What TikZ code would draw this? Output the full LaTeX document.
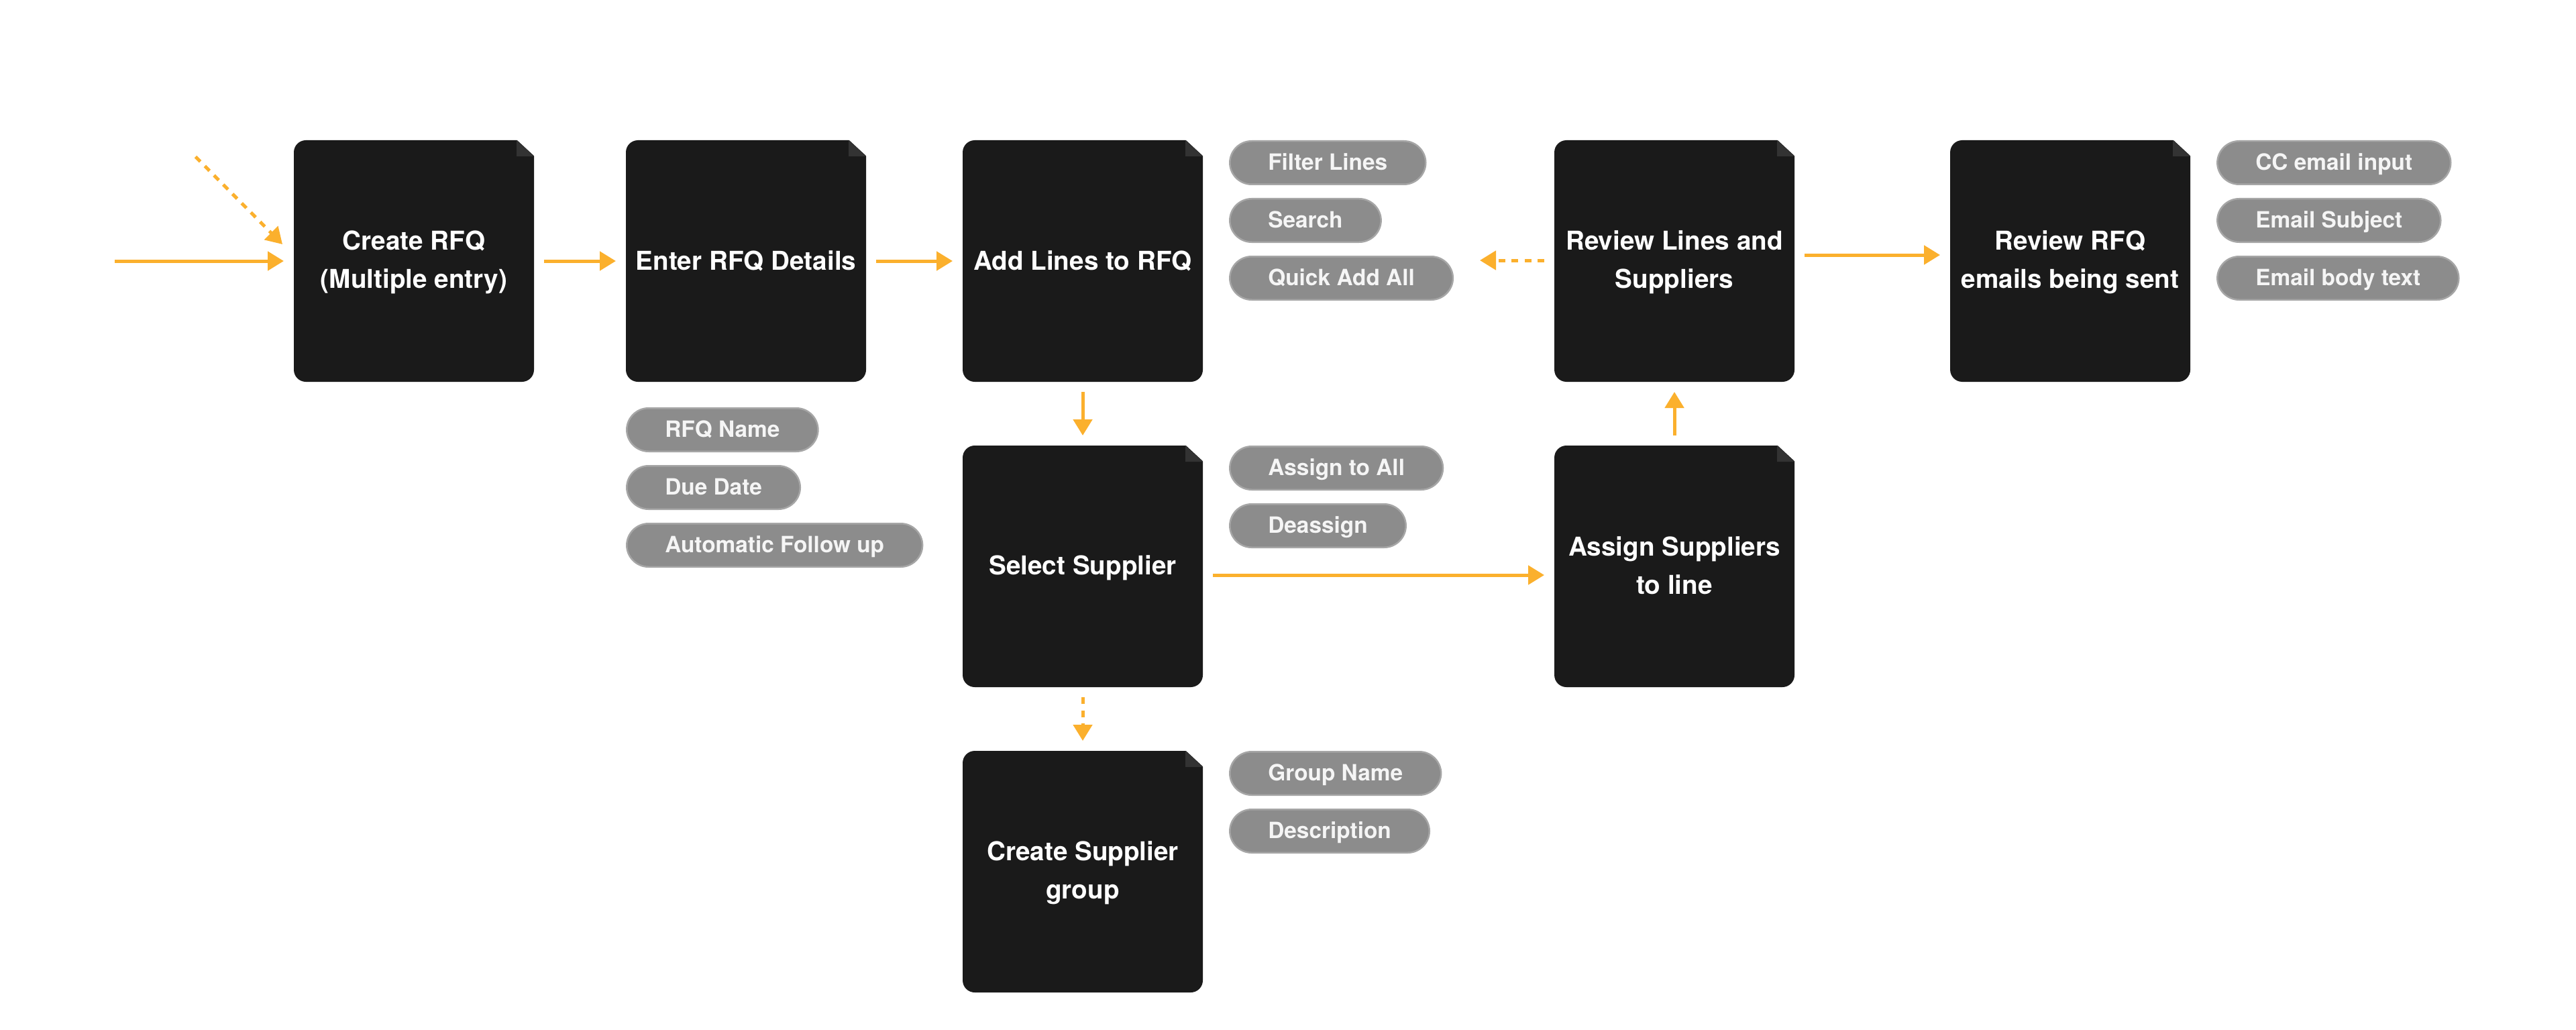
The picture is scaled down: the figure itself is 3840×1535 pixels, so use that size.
\documentclass[tikz,border=0pt]{standalone}
\usepackage{fontspec}
\setmainfont{TeX Gyre Heros}
\usetikzlibrary{positioning,calc,arrows.meta}
\definecolor{boxblack}{HTML}{1A1A1A}
\definecolor{foldgray}{HTML}{333333}
\definecolor{pillgray}{HTML}{8C8C8C}
\definecolor{pillrim}{HTML}{A6A6A6}
\definecolor{flowamber}{HTML}{FBB02D}
\newcommand{\boxstrut}{\rule[-1.6mm]{0pt}{8.4mm}}
\tikzset{
	screen/.style={rectangle, fill=boxblack, rounded corners=3.6mm, minimum width=71.6mm, minimum height=72mm, inner sep=0pt, outer sep=0pt, align=center, text=white, font=\fontsize{22}{32.4}\selectfont\bfseries, execute at begin node=\boxstrut},
	tworow/.style={execute at begin node=\rule[-1.6mm]{0pt}{19.6mm}},
	pill/.style={rectangle, fill=pillgray, draw=pillrim, line width=0.5mm, rounded corners=6.5mm, minimum height=12.9mm, inner xsep=11.4mm, inner ysep=0pt, outer sep=0pt, text height=5mm, text depth=0.6mm, text=white!96!black, font=\fontsize{19}{23}\selectfont\bfseries},
	flow/.style={draw=flowamber, line width=1mm, -{Triangle[length=4.8mm,width=5.6mm]}, shorten <=3mm, shorten >=3mm},
	backflow/.style={flow, dash pattern=on 2mm off 1.9mm},
}
\begin{document}
\begin{tikzpicture}[x=0.2mm, y=-0.2mm]
	\useasboundingbox (0,0) rectangle (3840,1535);

	\node [screen, tworow] (create) at (617,389) {Create RFQ\\(Multiple entry)};
	\node [screen] (enter) [right=27.4mm of create] {Enter RFQ Details};
	\node [screen] (add) [right=28.8mm of enter] {Add Lines to RFQ};
	\node [screen] (select) [below=19mm of add] {Select Supplier};
	\node [screen, tworow] (group) [below=19mm of select] {Create Supplier\\group};
	\node [screen, tworow] (review) [right=104.8mm of add] {Review Lines and\\Suppliers};
	\node [screen, tworow] (assign) [below=19mm of review] {Assign Suppliers\\to line};
	\node [screen, tworow] (emails) [right=46.4mm of review] {Review RFQ\\emails being sent};

	% folded corners
	\foreach \n in {create,enter,add,select,group,review,assign,emails} {
		\fill [white] ($(\n.north east)+(-26,-1)$) -- ($(\n.north east)+(1,-1)$) -- ($(\n.north east)+(1,24)$) -- cycle;
		\fill [foldgray] ($(\n.north east)+(-26,0)$) -- ($(\n.north east)+(0,24)$) -- ($(\n.north east)+(-26,24)$) -- cycle;
	}

	\node [pill] (rfqname) [below right=7.85mm and 0.25mm of enter.south west] {RFQ Name};
	\node [pill] (duedate) [below right=4.3mm and 0mm of rfqname.south west] {Due Date};
	\node [pill] (followup) [below right=4.3mm and 0mm of duedate.south west] {Automatic Follow up};

	\node [pill] (filter) [below right=0.25mm and 8.05mm of add.north east] {Filter Lines};
	\node [pill] (search) [below right=4.3mm and 0mm of filter.south west] {Search};
	\node [pill] (quick) [below right=4.3mm and 0mm of search.south west] {Quick Add All};

	\node [pill] (toall) [below right=0.25mm and 8.05mm of select.north east] {Assign to All};
	\node [pill] (deassign) [below right=4.3mm and 0mm of toall.south west] {Deassign};

	\node [pill] (groupname) [below right=0.25mm and 8.05mm of group.north east] {Group Name};
	\node [pill] (describe) [below right=4.3mm and 0mm of groupname.south west] {Description};

	\node [pill] (cc) [below right=0.25mm and 8.05mm of emails.north east] {CC email input};
	\node [pill] (subject) [below right=4.3mm and 0mm of cc.south west] {Email Subject};
	\node [pill] (bodytext) [below right=4.3mm and 0mm of subject.south west] {Email body text};

	\coordinate (entry) at (156,389);
	\coordinate (revisit) at (281,223);
	\coordinate (back) at (2191,388);

	\draw [flow] (entry) -- (create);
	\draw [backflow] (revisit) -- ($(create.west)+(-6.4,-14.3)$);
	\draw [flow] (create) -- (enter);
	\draw [flow] (enter) -- (add);
	\draw [flow] (add) -- (select);
	\draw [backflow] (select) -- (group);
	\draw [flow] ([yshift=-2.6mm]select.east) -- ([yshift=-2.6mm]assign.west);
	\draw [flow] (assign) -- (review);
	\draw [backflow] (review.west |- back) -- (back);
	\draw [flow] ([yshift=1.8mm]review.east) -- ([yshift=1.8mm]emails.west);
\end{tikzpicture}
\end{document}
